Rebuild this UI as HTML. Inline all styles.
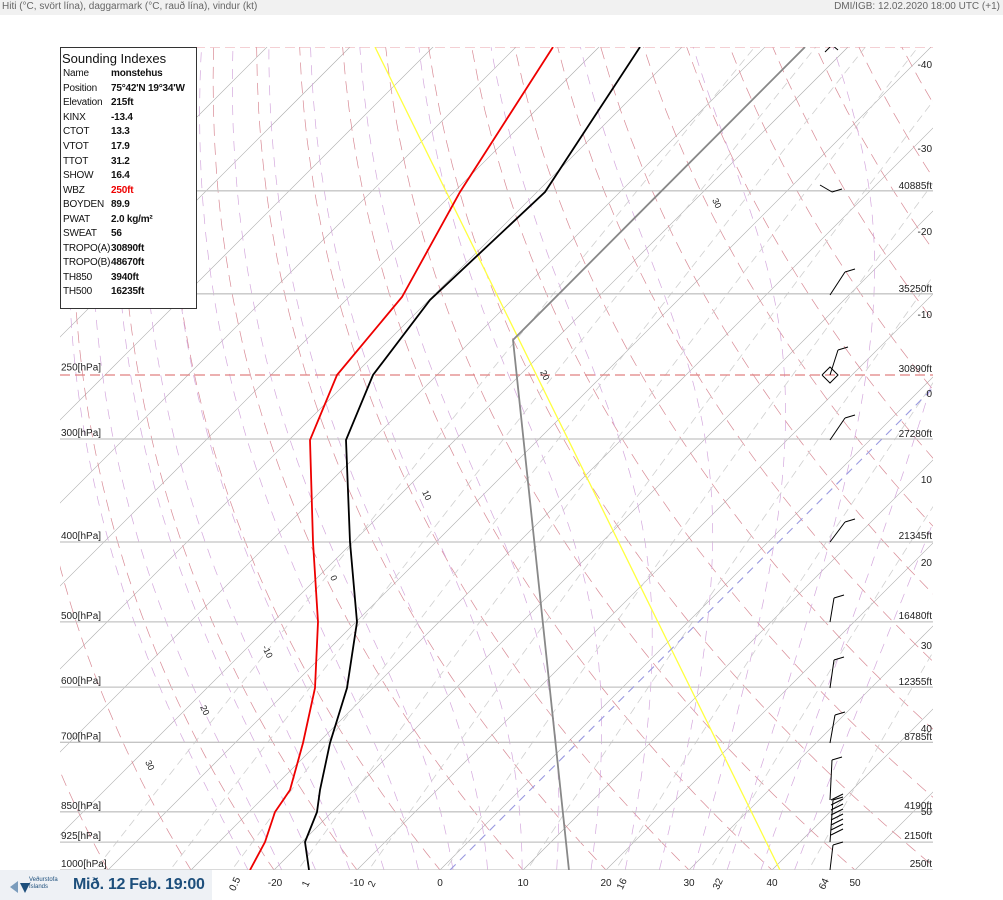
<!DOCTYPE html>
<html><head><meta charset="utf-8"><style>
html,body{margin:0;padding:0;background:#fff;}
body{width:1003px;height:900px;position:relative;overflow:hidden;font-family:"Liberation Sans",sans-serif;}
#hdr{position:absolute;left:0;top:0;width:1003px;height:15px;background:#f1f1f1;font-size:10px;color:#666;line-height:14px;}
#hdr .l{position:absolute;left:2px;top:0}
#hdr .r{position:absolute;right:3px;top:0}
svg{position:absolute;left:0;top:0}
#leg{position:absolute;left:60px;top:47px;width:137px;height:262px;background:#fff;border:1px solid #333;box-sizing:border-box;font-size:10px;color:#111;}
#leg .t{font-size:13px;margin:3px 0 0 1px;}
#leg table{border-collapse:collapse;margin-left:2px;margin-top:1px}
#leg td{padding:0;height:14.55px;line-height:14px;white-space:nowrap;letter-spacing:-0.2px}
#leg td:first-child{width:48px}
#leg td:last-child{font-weight:bold}
#logo{position:absolute;left:0;top:870px;width:212px;height:30px;background:#eef1f5;}
#logo .d{position:absolute;left:73px;top:6px;font-size:16px;font-weight:bold;color:#1d4f7c;white-space:nowrap;letter-spacing:-0.3px}
#logo .s{position:absolute;left:29px;top:7px;font-size:6px;color:#1d4f7c;line-height:7px;white-space:nowrap}
</style></head><body>
<div id="hdr"><span class="l">Hiti (°C, svört lína), daggarmark (°C, rauð lína), vindur (kt)</span><span class="r">DMI/IGB: 12.02.2020 18:00 UTC (+1)</span></div>
<svg id="sv" width="1003" height="900" xmlns="http://www.w3.org/2000/svg"></svg>
<div id="leg"><div class="t">Sounding Indexes</div><table>
<tr><td>Name</td><td>monstehus</td></tr>
<tr><td>Position</td><td>75°42'N 19°34'W</td></tr>
<tr><td>Elevation</td><td>215ft</td></tr>
<tr><td>KINX</td><td>-13.4</td></tr>
<tr><td>CTOT</td><td>13.3</td></tr>
<tr><td>VTOT</td><td>17.9</td></tr>
<tr><td>TTOT</td><td>31.2</td></tr>
<tr><td>SHOW</td><td>16.4</td></tr>
<tr><td>WBZ</td><td style="color:#e00">250ft</td></tr>
<tr><td>BOYDEN</td><td>89.9</td></tr>
<tr><td>PWAT</td><td>2.0 kg/m²</td></tr>
<tr><td>SWEAT</td><td>56</td></tr>
<tr><td>TROPO(A)</td><td>30890ft</td></tr>
<tr><td>TROPO(B)</td><td>48670ft</td></tr>
<tr><td>TH850</td><td>3940ft</td></tr>
<tr><td>TH500</td><td>16235ft</td></tr>
</table></div>
<div id="logo"><svg width="24" height="24" style="left:8px;top:5px"><polygon points="2,12 10,6 10,18" fill="#7a9cbc"/><polygon points="12,8 22,8 17,18" fill="#1d4f7c"/></svg><div class="s">Veðurstofa<br>Íslands</div><div class="d">Mið. 12 Feb. 19:00</div></div>
<script>
var S=document.getElementById('sv'),NS='http://www.w3.org/2000/svg';
function Y(p){return 870-358*Math.log(1000/p);}
function X(T,p){return 440+8.3*T+(870-Y(p));}
function el(n,a,t){var e=document.createElementNS(NS,n);for(var k in a)e.setAttribute(k,a[k]);if(t!==undefined)e.textContent=t;S.appendChild(e);return e;}
var defs=el('defs',{});var cp=document.createElementNS(NS,'clipPath');cp.setAttribute('id','c');var r=document.createElementNS(NS,'rect');r.setAttribute('x',60);r.setAttribute('y',47);r.setAttribute('width',873);r.setAttribute('height',823);cp.appendChild(r);defs.appendChild(cp);
var g=el('g',{'clip-path':'url(#c)'});
function path(pts,a){var d='';pts.forEach(function(q,i){d+=(i?'L':'M')+q[0].toFixed(1)+','+q[1].toFixed(1);});var e=document.createElementNS(NS,'path');e.setAttribute('d',d);e.setAttribute('fill','none');for(var k in a)e.setAttribute(k,a[k]);g.appendChild(e);}
var ps=[];for(var p=1050;p>=95;p-=10)ps.push(p);
for(var T=-150;T<=60;T+=10){path([[X(T,1050),Y(1050)],[X(T,95),Y(95)]],{stroke:'#aaa','stroke-width':0.6});}
for(var th=-50;th<=260;th+=10){var pts=ps.map(function(p){var t=(th+273.15)*Math.pow(p/1000,0.286)-273.15;return [X(t,p),Y(p)];});path(pts,{stroke:'#d88a95','stroke-width':0.7,'stroke-dasharray':'12,7'});}
function es(t){return 6.112*Math.exp(17.67*t/(t+243.5));}
for(var tw=-20;tw<=44;tw+=4){var t=tw,pts=[];for(var p=1050;p>=100;p-=5){pts.push([X(t,p),Y(p)]);var TK=t+273.15,e=es(t),rs=0.622*e/(p-e);var dTdp=(287*TK+2.5e6*rs)/(1004+2.5e6*2.5e6*rs*0.622/(287*TK*TK))/p;t-=dTdp*5;}path(pts,{stroke:'#d4a8dd','stroke-width':0.7,'stroke-dasharray':'10,8'});}
[0.1,0.25,0.5,1,2,4,8,16,32,64].forEach(function(w){var pts=[];for(var p=1050;p>=100;p-=25){var e=p*w/(622+w),l=Math.log(e/6.112),td=243.5*l/(17.67-l);pts.push([X(td,p),Y(p)]);}path(pts,{stroke:'#cfcfcf','stroke-width':0.8,'stroke-dasharray':'8,5'});});
[1000,925,850,700,600,500,400,300,200,150].forEach(function(p){path([[60,Y(p)],[933,Y(p)]],{stroke:'#c4c4c4','stroke-width':1.3});});
path([[60,375],[933,375]],{stroke:'#e08080','stroke-width':1.2,'stroke-dasharray':'10,5'});
path([[60,47],[933,47]],{stroke:'#e8a0a8','stroke-width':1,'stroke-dasharray':'10,5'});
path([[375,47],[780,870]],{stroke:'#ffff40','stroke-width':1.3});
path([[450,870],[933,388]],{stroke:'#9a9ae0','stroke-width':1.1,'stroke-dasharray':'8,6'});
path([[570,880],[513,340],[805,47]],{stroke:'#888','stroke-width':1.8});
path([[309,870],[305,842],[317,812],[320,790],[330,743],[347,688],[357,622],[350,542],[346,440],[373,375],[430,300],[545,192],[640,47]],{stroke:'#000','stroke-width':1.8});
path([[250,870],[265,842],[275,812],[290,790],[303,743],[315,688],[318,622],[313,542],[310,440],[337,375],[402,297],[460,192],[553,47]],{stroke:'#e00','stroke-width':1.8});
var wb=[[830,870,833,845],[830,842,833,800],[830,800,832,760],[830,743,835,715],[830,688,834,660],[830,622,834,598],[830,542,845,522],[830,440,845,418],[830,375,838,350],[830,295,845,272],[820,185,832,192]];
wb.forEach(function(w){path([[w[0],w[1]],[w[2],w[3]]],{stroke:'#000','stroke-width':1});path([[w[2],w[3]],[w[2]+10,w[3]-3]],{stroke:'#000','stroke-width':1});});
for(var i=0;i<8;i++)path([[831,835-i*5],[843,829-i*5]],{stroke:'#000','stroke-width':1});
path([[822,375],[830,367],[838,375],[830,383],[822,375]],{stroke:'#000','stroke-width':1});
path([[825,52],[832,45],[838,50]],{stroke:'#000','stroke-width':1});
function tx(x,y,s,a){var o={x:x,y:y,'font-size':10,fill:'#222','font-family':'Liberation Sans, sans-serif'};for(var k in a)o[k]=a[k];el('text',o,s);}
[[1000,'1000[hPa]'],[925,'925[hPa]'],[850,'850[hPa]'],[700,'700[hPa]'],[600,'600[hPa]'],[500,'500[hPa]'],[400,'400[hPa]'],[300,'300[hPa]'],[250,'250[hPa]']].forEach(function(q){tx(61,Y(q[0])-3,q[1]);});
[[870,'250ft'],[842,'2150ft'],[812,'4190ft'],[743,'8785ft'],[688,'12355ft'],[622,'16480ft'],[542,'21345ft'],[440,'27280ft'],[375,'30890ft'],[295,'35250ft'],[192,'40885ft']].forEach(function(q){tx(932,q[0]-3,q[1],{'text-anchor':'end'});});
[[-40,68],[-30,152],[-20,235],[-10,318],[0,397],[10,483],[20,566],[30,649],[40,732],[50,815]].forEach(function(q){tx(932,q[1],String(q[0]),{'text-anchor':'end'});});
[[-20,275],[-10,357],[0,440],[10,523],[20,606],[30,689],[40,772],[50,855]].forEach(function(q){tx(q[1],886,String(q[0]),{'text-anchor':'middle'});});
[['0.5',235],['2',372],['16',622],['32',718],['64',824],['1',306]].forEach(function(q){tx(q[1],887,q[0],{'text-anchor':'middle',transform:'rotate(-65 '+q[1]+' 884)'});});
[['10',422,492],['0',330,577],['-10',262,647],['20',200,707],['30',145,762],['20',540,372],['30',712,200]].forEach(function(q){tx(q[1],q[2],q[0],{'font-size':9,transform:'rotate(65 '+q[1]+' '+q[2]+')'});});
path([[212,887],[933,887]],{stroke:'#ccc','stroke-width':1});
</script>
</body></html>
